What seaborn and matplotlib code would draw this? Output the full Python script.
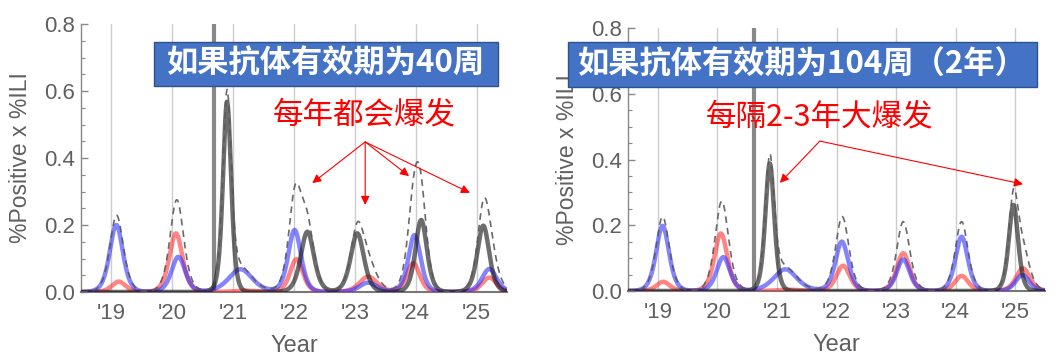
import numpy as np
import pandas as pd
import matplotlib
matplotlib.use("Agg")
import matplotlib.pyplot as plt
from matplotlib.patches import Rectangle
from matplotlib.ticker import MultipleLocator
import seaborn as sns

# ---------------- data (peaks) ----------------
year_ticks = [2019, 2020, 2021, 2022, 2023, 2024, 2025]
year_labels = ["'19", "'20", "'21", "'22", "'23", "'24", "'25"]

# Left panel: antibody lasts 40 weeks
L_blue_t = [2019.08, 2020.10, 2021.12, 2022.01, 2023.22, 2023.98, 2025.21]
L_blue_h = [0.200, 0.105, 0.068, 0.185, 0.028, 0.170, 0.069]
L_blue_w = [0.145, 0.150, 0.260, 0.140, 0.190, 0.135, 0.160]
L_red_t = [2019.12, 2020.06, 2021.20, 2022.04, 2023.22, 2023.96, 2025.21]
L_red_h = [0.031, 0.175, 0.004, 0.098, 0.046, 0.086, 0.043]
L_red_w = [0.150, 0.145, 0.250, 0.140, 0.190, 0.140, 0.160]
L_black_t = [2020.90, 2022.22, 2023.04, 2024.09, 2025.11]
L_black_h = [0.568, 0.180, 0.175, 0.215, 0.198]
L_black_w = [0.090, 0.145, 0.145, 0.125, 0.130]

# Right panel: antibody lasts 104 weeks (2 years)
R_blue_t = [2019.08, 2020.10, 2021.14, 2022.09, 2023.12, 2024.10, 2025.12]
R_blue_h = [0.198, 0.103, 0.066, 0.150, 0.096, 0.165, 0.049]
R_blue_w = [0.145, 0.150, 0.260, 0.145, 0.145, 0.140, 0.150]
R_red_t = [2019.09, 2020.06, 2021.20, 2022.11, 2023.12, 2024.10, 2025.13]
R_red_h = [0.028, 0.175, 0.004, 0.077, 0.115, 0.046, 0.069]
R_red_w = [0.150, 0.145, 0.250, 0.150, 0.145, 0.150, 0.155]
R_black_t = [2020.88, 2024.97]
R_black_h = [0.388, 0.262]
R_black_w = [0.100, 0.105]

intervention = [2020.68, 2020.62]

titles = ["如果抗体有效期为40周", "如果抗体有效期为104周（2年）"]
notes = ["每年都会爆发", "每隔2-3年大爆发"]
note_xy = [(2023.16, 0.528), (2021.72, 0.530)]
arrow_start = [(2023.17, 0.448), (2021.72, 0.456)]
arrow_ends = [[(2022.30, 0.325), (2023.17, 0.260), (2023.89, 0.346), (2024.89, 0.296)],
              [(2021.05, 0.329), (2025.13, 0.325)]]


def season_curve(t, peaks_t, peaks_h, peaks_w):
    y = np.zeros_like(t)
    for t0, h, w in zip(peaks_t, peaks_h, peaks_w):
        y += h / np.cosh((t - t0) / w) ** 2
    return y


def build(bt, bh, bw, rt, rh, rw, kt, kh, kw):
    t = np.linspace(2018.5, 2025.5, 1401)
    b = season_curve(t, bt, bh, bw)
    r = season_curve(t, rt, rh, rw)
    k = season_curve(t, kt, kh, kw)
    tot = b + r + k
    frames = []
    for name, v in [("blue", b), ("red", r), ("black", k), ("total", tot)]:
        frames.append(pd.DataFrame({"year": t, "value": v, "series": name}))
    return pd.concat(frames, ignore_index=True)


panels = [
    build(L_blue_t, L_blue_h, L_blue_w, L_red_t, L_red_h, L_red_w, L_black_t, L_black_h, L_black_w),
    build(R_blue_t, R_blue_h, R_blue_w, R_red_t, R_red_h, R_red_w, R_black_t, R_black_h, R_black_w),
]

# ---------------- plotting ----------------
sns.set_theme(style="white")
plt.rcParams["font.family"] = ["Liberation Sans", "Noto Sans CJK SC", "DejaVu Sans"]

W, H = 1062, 356
fig = plt.figure(figsize=(W / 100, H / 100), dpi=100)
axes_px = [(81, 507, 24, 292), (628, 1045, 28, 291)]
box_px = [(154, 498, 42, 86), (568, 1037, 42, 87)]

styles = {
    "blue": dict(color=(0.2, 0.2, 1.0), alpha=0.6, lw=3.2, ls="-"),
    "red": dict(color=(1.0, 0.2, 0.2), alpha=0.6, lw=3.2, ls="-"),
    "black": dict(color=(0.08, 0.08, 0.08), alpha=0.62, lw=3.2, ls="-"),
    "total": dict(color=(0.35, 0.35, 0.35), alpha=0.9, lw=1.2, ls=(0, (4, 3))),
}
grey = "#606060"
fs = 16

for i, df in enumerate(panels):
    x0, x1, y0, y1 = axes_px[i]
    ax = fig.add_axes([x0 / W, 1 - y1 / H, (x1 - x0) / W, (y1 - y0) / H])
    for xt in year_ticks:
        ax.axvline(xt, color="#cccccc", lw=1.0, zorder=0)
    ax.axvline(intervention[i], color="#888888", lw=3, zorder=1)
    for name in ["red", "blue", "black", "total"]:
        st = styles[name]
        sns.lineplot(data=df[df.series == name], x="year", y="value", ax=ax,
                     color=st["color"], alpha=st["alpha"], lw=st["lw"],
                     linestyle=st["ls"], zorder=3, legend=False)
    ax.set_xlim(2018.5, 2025.5)
    ax.set_ylim(0, 0.8)
    ax.set_xticks(year_ticks)
    ax.set_xticklabels(year_labels)
    ax.set_yticks([0, 0.2, 0.4, 0.6, 0.8])
    ax.set_yticklabels(["0.0", "0.2", "0.4", "0.6", "0.8"])
    ax.yaxis.set_minor_locator(MultipleLocator(0.05))
    ax.tick_params(axis="y", which="major", direction="in", length=5, width=1,
                   color="#888888", labelsize=fs, labelcolor=grey, pad=4, left=True)
    ax.tick_params(axis="y", which="minor", direction="in", length=3, width=0.8,
                   color="#888888", left=True)
    ax.tick_params(axis="x", length=0, labelsize=fs, labelcolor=grey, pad=8)
    for s in ["top", "right"]:
        ax.spines[s].set_visible(False)
    ax.spines["left"].set_color("#888888")
    ax.spines["left"].set_linewidth(1.0)
    ax.spines["bottom"].set_color("#777777")
    ax.spines["bottom"].set_linewidth(1.5)
    ax.set_xlabel("Year", fontsize=17, color=grey, labelpad=8)
    ax.set_ylabel("%Positive x %ILI", fontsize=16.5, color=grey, labelpad=9)
    ax.grid(False)

    # red annotations
    ax.text(note_xy[i][0], note_xy[i][1], notes[i], color="#ff0000", fontsize=22,
            ha="center", va="center", family=["Noto Sans CJK SC", "DejaVu Sans"], zorder=6)
    for end in arrow_ends[i]:
        ax.annotate("", xy=end, xytext=arrow_start[i],
                    arrowprops=dict(arrowstyle="-|>", color="#ff0000", lw=0.8,
                                    mutation_scale=13, shrinkA=0, shrinkB=0), zorder=6)

    # title box
    bx0, bx1, by0, by1 = box_px[i]
    rect = Rectangle((bx0 / W, 1 - by1 / H), (bx1 - bx0) / W, (by1 - by0) / H,
                     transform=fig.transFigure, facecolor="#4472C4",
                     edgecolor="#2F528F", lw=1.0, zorder=10)
    fig.add_artist(rect)
    fig.text((bx0 + bx1) / 2 / W, 1 - (by0 + by1) / 2 / H, titles[i], color="white",
             fontsize=22.5, fontweight="bold", ha="center", va="center",
             family=["Noto Sans CJK SC", "DejaVu Sans"], zorder=11)

fig.savefig("out.png", dpi=100)
